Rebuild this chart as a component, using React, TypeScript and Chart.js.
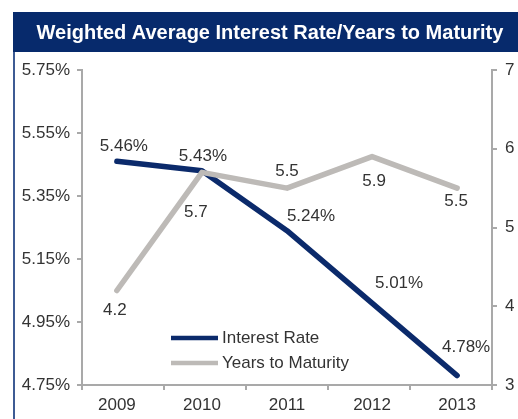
import { useEffect, useRef } from 'react';
import { Chart, registerables } from 'chart.js';

Chart.register(...registerables);

const title = 'Weighted Average Interest Rate/Years to Maturity';
const categories = ['2009', '2010', '2011', '2012', '2013'];
const interestRate = [5.46, 5.43, 5.24, 5.01, 4.78];
const yearsToMaturity = [4.2, 5.7, 5.5, 5.9, 5.5];
const leftTicks = [4.75, 4.95, 5.15, 5.35, 5.55, 5.75];
const rightTicks = [3, 4, 5, 6, 7];
const seriesNames = ['Interest Rate', 'Years to Maturity'];

const FONT = '"Liberation Sans", Arial, Helvetica, sans-serif';
const NAVY = '#0b2a6b';
const GREYLINE = '#bdbab7';
const AXIS = '#a9a9a9';
const TEXT = '#333333';

// label offsets (px) relative to each point, per dataset
const labelOffsets = [
  [[7, -15], [1, -14], [24, -14], [27, -20], [9, -28]],
  [[-2, 20], [-6, 40], [0, -17], [2, 25], [-1, 13]],
];

const decorPlugin = {
  id: 'decor',
  beforeDraw(chart: any) {
    const ctx = chart.ctx;
    ctx.save();
    ctx.fillStyle = '#ffffff';
    ctx.fillRect(0, 0, chart.width, chart.height);
    ctx.fillStyle = '#072a6c';
    ctx.fillRect(13, 12, chart.width - 13, 40);
    ctx.strokeStyle = '#3d5b94';
    ctx.lineWidth = 2;
    ctx.beginPath();
    ctx.moveTo(14, 52);
    ctx.lineTo(14, chart.height);
    ctx.stroke();
    ctx.fillStyle = '#ffffff';
    ctx.font = `bold 20px ${FONT}`;
    ctx.textAlign = 'center';
    ctx.textBaseline = 'middle';
    ctx.fillText(title, 270, 33);
    ctx.restore();
  },
  afterDatasetsDraw(chart: any) {
    const ctx = chart.ctx;
    ctx.save();
    ctx.font = `17px ${FONT}`;
    ctx.fillStyle = TEXT;
    ctx.textAlign = 'center';
    ctx.textBaseline = 'middle';
    chart.data.datasets.forEach((ds: any, di: number) => {
      const meta = chart.getDatasetMeta(di);
      meta.data.forEach((pt: any, i: number) => {
        const raw = ds.data[i].y;
        const txt = di === 0 ? raw.toFixed(2) + '%' : String(raw);
        const off = labelOffsets[di][i];
        ctx.fillText(txt, pt.x + off[0], pt.y + off[1]);
      });
    });
    // legend
    const colors = [NAVY, GREYLINE];
    ctx.textAlign = 'left';
    seriesNames.forEach((name, i) => {
      const y = 338 + i * 25;
      ctx.strokeStyle = colors[i];
      ctx.lineWidth = 4.5;
      ctx.lineCap = 'butt';
      ctx.beginPath();
      ctx.moveTo(171, y);
      ctx.lineTo(218, y);
      ctx.stroke();
      ctx.fillStyle = TEXT;
      ctx.fillText(name, 222, y);
    });
    ctx.restore();
  },
};

const isInt = (v: number) => Math.abs(v - Math.round(v)) < 1e-6;

export default function App() {
  const ref = useRef<HTMLCanvasElement | null>(null);
  useEffect(() => {
    if (!ref.current) return;
    const chart = new Chart(ref.current, {
      type: 'line',
      data: {
        datasets: [
          {
            label: seriesNames[0],
            data: interestRate.map((v, i) => ({ x: i, y: v })),
            borderColor: NAVY,
            borderWidth: 5.5,
            borderCapStyle: 'round',
            borderJoinStyle: 'round',
            pointRadius: 0,
            yAxisID: 'y',
            order: 2,
          },
          {
            label: seriesNames[1],
            data: yearsToMaturity.map((v, i) => ({ x: i, y: v })),
            borderColor: GREYLINE,
            borderWidth: 5.5,
            borderCapStyle: 'round',
            borderJoinStyle: 'round',
            pointRadius: 0,
            yAxisID: 'y1',
            order: 1,
          },
        ],
      },
      options: {
        responsive: false,
        animation: false,
        layout: { padding: { top: 70, left: 0, right: 0, bottom: 0 } },
        plugins: { legend: { display: false }, tooltip: { enabled: false } },
        scales: {
          x: {
            type: 'linear',
            position: 'bottom',
            min: -0.41,
            max: 4.41,
            afterBuildTicks: (scale: any) => {
              const n = categories.length;
              const vals: number[] = [];
              for (let i = 0; i < n; i++) vals.push(i);
              for (let k = 0; k <= n; k++) vals.push(scale.min + (k * (scale.max - scale.min)) / n);
              vals.sort((a, b) => a - b);
              scale.ticks = vals.map((v) => ({ value: v }));
            },
            afterFit: (scale: any) => {
              scale.height = 34;
            },
            ticks: {
              autoSkip: false,
              maxRotation: 0,
              padding: 5,
              color: TEXT,
              font: { family: FONT, size: 17 },
              callback: (v: any) => (isInt(v) ? categories[Math.round(v)] : ''),
            },
            grid: {
              drawOnChartArea: false,
              tickLength: 5,
              lineWidth: 2,
              tickColor: (c: any) => (c.tick && isInt(c.tick.value) ? 'rgba(0,0,0,0)' : AXIS),
            },
            border: { color: AXIS, width: 2 },
          },
          y: {
            type: 'linear',
            position: 'left',
            min: 4.75,
            max: 5.75,
            afterBuildTicks: (scale: any) => {
              scale.ticks = leftTicks.map((v) => ({ value: v }));
            },
            afterFit: (scale: any) => {
              scale.width = 82;
            },
            ticks: {
              padding: 7,
              color: TEXT,
              font: { family: FONT, size: 17 },
              callback: (v: any) => Number(v).toFixed(2) + '%',
            },
            grid: { drawOnChartArea: false, tickLength: 5, lineWidth: 2, color: AXIS },
            border: { color: AXIS, width: 2 },
          },
          y1: {
            type: 'linear',
            position: 'right',
            min: 3,
            max: 7,
            afterBuildTicks: (scale: any) => {
              scale.ticks = rightTicks.map((v) => ({ value: v }));
            },
            afterFit: (scale: any) => {
              scale.width = 26;
            },
            ticks: {
              padding: 8,
              color: TEXT,
              font: { family: FONT, size: 17 },
              callback: (v: any) => String(v),
            },
            grid: { drawOnChartArea: false, tickLength: 5, lineWidth: 2, color: AXIS },
            border: { color: AXIS, width: 2 },
          },
        },
      },
      plugins: [decorPlugin],
    } as any);
    return () => chart.destroy();
  }, []);
  return (
    <div style={{ position: 'absolute', left: 0, top: 0, width: 518, height: 419 }}>
      <canvas ref={ref} width={518} height={419} style={{ display: 'block' }} />
    </div>
  );
}
